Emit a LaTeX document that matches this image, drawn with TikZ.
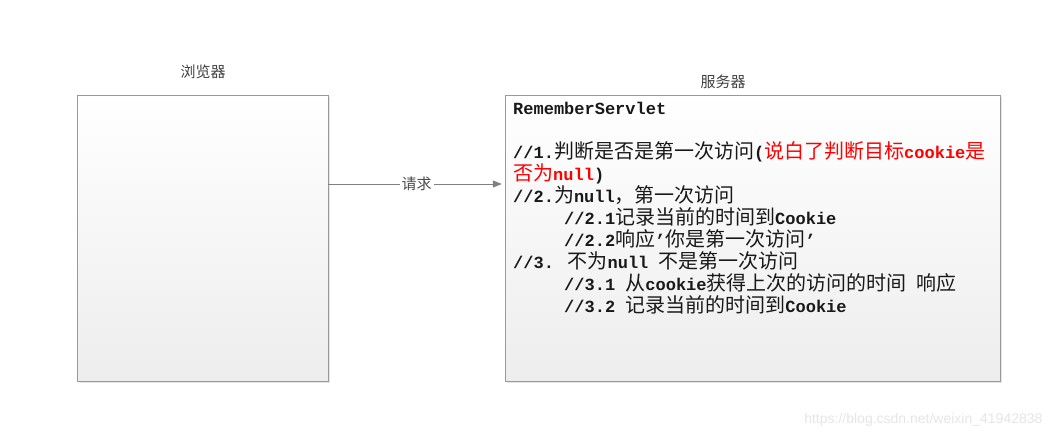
\documentclass[tikz,border=0pt]{standalone}
\usepackage{fontspec}
\setmainfont{Liberation Mono}
\newfontfamily\zhfont{Noto Sans CJK SC}
\newfontfamily\urlfont{Liberation Sans}
\usetikzlibrary{arrows.meta,positioning,shadows}

% CJK runs inside the code listing
\newcommand{\zh}[1]{{\zhfont\mdseries\fontsize{20}{22}\selectfont #1}}

\tikzset{
  panel/.style={draw=black!40, top color=white, bottom color=black!7,
    drop shadow={shadow xshift=1.5pt, shadow yshift=-1.5pt, opacity=0.2},
    inner sep=0pt, minimum height=286pt},
  title/.style={font=\zhfont\fontsize{15}{18}\selectfont, text=black!75},
  request/.style={draw=black!50, line width=0.8pt, shorten >=3pt,
    -{Triangle[length=9pt,width=7pt]}}
}

\begin{document}
\begin{tikzpicture}[x=1pt, y=-1pt]
\useasboundingbox (0,0) rectangle (1053,439);
% the two boxes
\node[panel, minimum width=251pt] (browser) at (202.5,238) {};
\node[panel, minimum width=495pt] (server) at (752.5,238) {};
% titles
\node[title] (browsertitle) at (203,72) {浏览器};
\node[title] (servertitle) at (723,82) {服务器};
% request arrow
\draw[request] ([yshift=54pt]browser.east) -- ([yshift=54pt]server.west)
  node[midway, fill=white, inner sep=2pt, font=\zhfont\fontsize{15}{18}\selectfont, text=black!70] (req) {请求};
% servlet notes
\node[anchor=north west, align=left, inner sep=0pt, text=black!90,
  font=\bfseries\fontsize{17}{22}\selectfont] (notes) at (513,102) {%
RememberServlet\\
\\
//1.\zh{判断是否是第一次访问}(\textcolor{red}{\zh{说白了判断目标}cookie\zh{是}}\\
\textcolor{red}{\zh{否为}null})\\
//2.\zh{为}null\zh{，第一次访问}\\
\hspace*{51pt}//2.1\zh{记录当前的时间到}Cookie\\
\hspace*{51pt}//2.2\zh{响应}’\zh{你是第一次访问}’\\
//3. \zh{不为}null \zh{不是第一次访问}\\
\hspace*{51pt}//3.1 \zh{从}cookie\zh{获得上次的访问的时间} \zh{响应}\\
\hspace*{51pt}//3.2 \zh{记录当前的时间到}Cookie};
% watermark
\node[anchor=east, font=\urlfont\fontsize{14}{16}\selectfont, text=black!10] (mark) at (1046,420) {https://blog.csdn.net/weixin\_41942838};
\end{tikzpicture}
\end{document}
